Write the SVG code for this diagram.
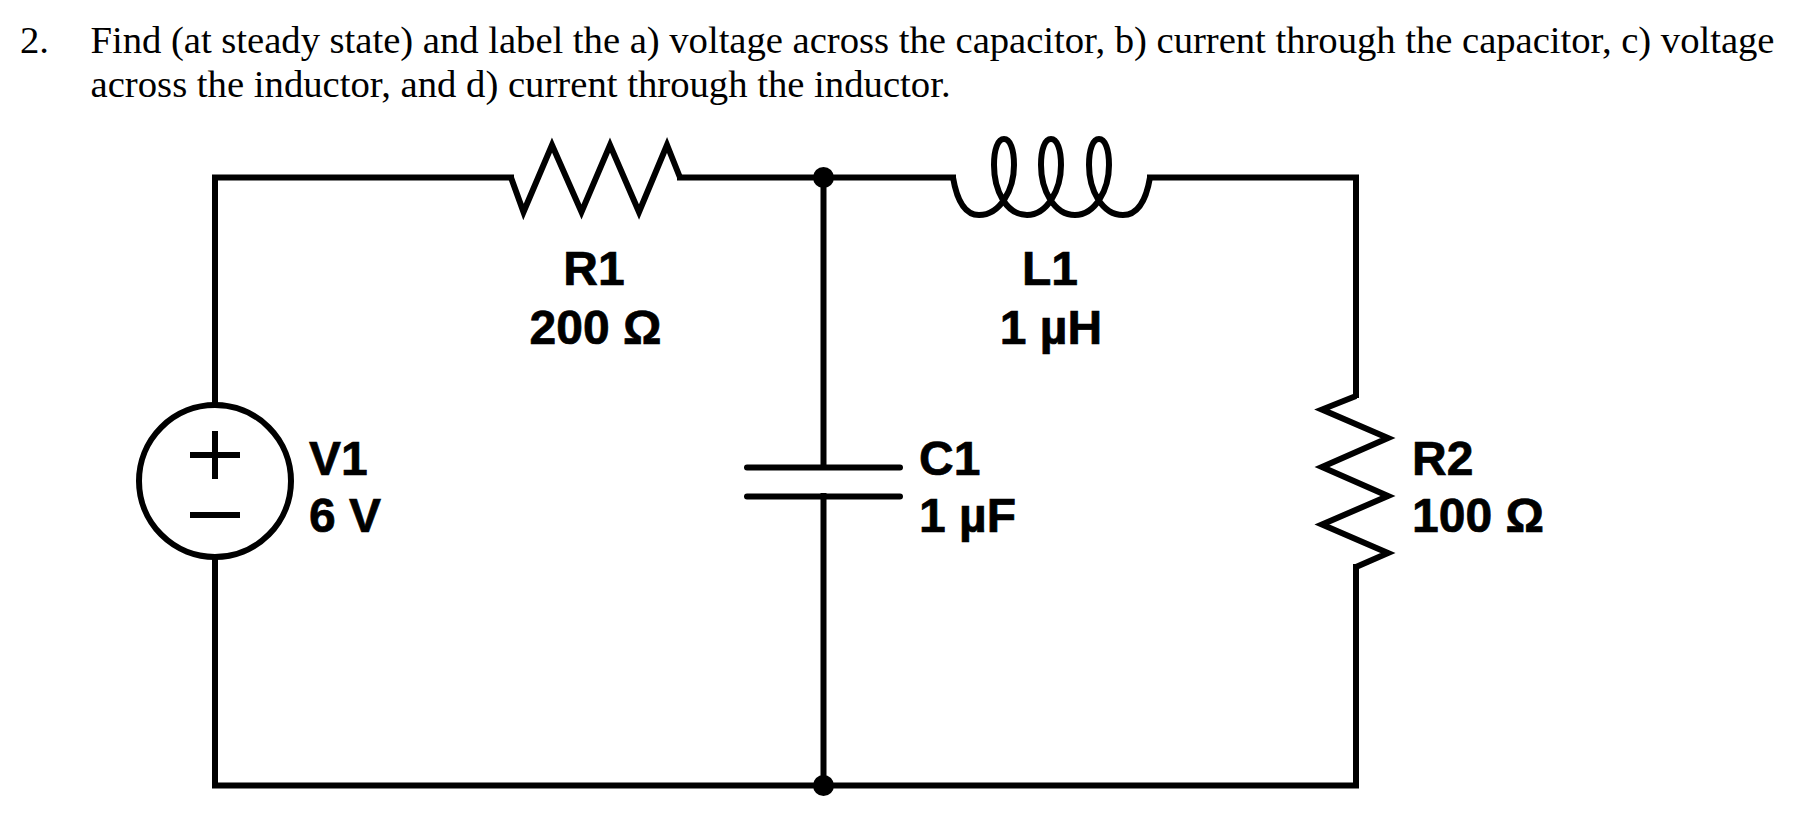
<svg xmlns="http://www.w3.org/2000/svg" width="1797" height="819" viewBox="0 0 1797 819">
<style>
.w{fill:none;stroke:#000;stroke-width:6;stroke-linejoin:miter;stroke-linecap:square}
.s{fill:none;stroke:#000;stroke-width:6;stroke-linejoin:miter}
.c{fill:none;stroke:#000;stroke-width:6;stroke-linecap:round}
.q{font-family:"Liberation Serif","Times New Roman",serif;font-size:38.700px;fill:#000}
.l{font-family:"Liberation Sans",Arial,sans-serif;font-weight:700;font-size:48px;fill:#000;stroke:#000;stroke-width:.7px}
.m{text-anchor:middle}
</style>
<rect width="1797" height="819" fill="#fff"/>
<g id="question">
<text class="q" x="20" y="53">2.</text>
<text class="q" x="90.5" y="53" textLength="1684" lengthAdjust="spacing">Find (at steady state) and label the a) voltage across the capacitor, b) current through the capacitor, c) voltage</text>
<text class="q" x="90.5" y="97">across the inductor, and d) current through the inductor.</text>
</g>
<g id="connectors">
<path class="w" d="M215 405V177.500H511"/>
<path class="w" d="M680 177.500H953"/>
<path class="w" d="M1150 177.500H1356V395"/>
<path class="w" d="M1356 567V785.500H215V557"/>
<path class="w" d="M823.500 177.500V467"/>
<path class="w" d="M823.500 496V785.500"/>
</g>
<g id="V1">
<circle class="w" cx="215" cy="481" r="76"/>
<path class="s" d="M190 455H240M215 431V479M190 515H240"/>
<text class="l" x="309" y="475">V1</text>
<text class="l" x="309" y="532">6 V</text>
</g>
<g id="R1">
<path class="s" d="M511 177.500L523.500 212L552 145L581.500 212L610 145L639 212L667 145L680 177.500"/>
<text class="l m" x="594" y="285">R1</text>
<text class="l m" x="595.500" y="344">200 Ω</text>
</g>
<g id="L1">
<path class="s" d="M953 177.500C957 201 965 215 979 215C1000 215 1014 190 1014 165C1014 149 1010 139 1004 139C998 139 994 149 994 165C994 190 1006 215 1027 215C1047 215 1061 190 1061 165C1061 149 1057 139 1051 139C1045 139 1041 149 1041 165C1041 190 1054 215 1075 215C1095 215 1109 190 1109 165C1109 149 1105 139 1099 139C1093 139 1089 149 1089 165C1089 190 1102 215 1123 215C1138 215 1146 201 1150 177.500"/>
<text class="l m" x="1050" y="285">L1</text>
<text class="l m" x="1051" y="344">1 µH</text>
</g>
<g id="C1">
<path class="c" d="M747 467.500H900M747 496.500H900"/>
<text class="l" x="919" y="475">C1</text>
<text class="l" x="919" y="532">1 µF</text>
</g>
<g id="R2">
<path class="s" d="M1356 396L1322 409.500L1388 438L1322 467L1388 496L1322 524.500L1388 553L1356 567"/>
<text class="l" x="1412" y="475">R2</text>
<text class="l" x="1412" y="532">100 Ω</text>
</g>
<g id="junctions">
<circle cx="823.500" cy="177.500" r="10.500"/>
<circle cx="823.500" cy="785.500" r="10.500"/>
</g>
</svg>
